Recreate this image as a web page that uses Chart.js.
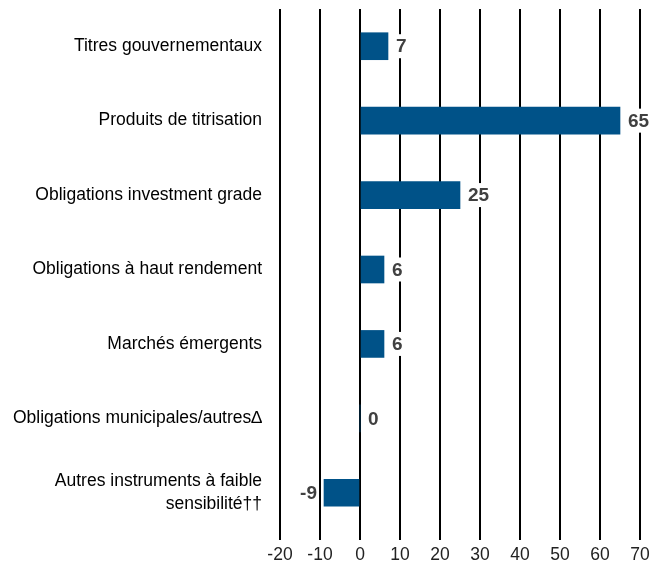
<!DOCTYPE html>
<html>
<head>
<meta charset="utf-8">
<script src="https://cdn.jsdelivr.net/npm/chart.js@4"></script>
<style>
  html, body { margin: 0; padding: 0; background: #fff; }
  #wrap { width: 652px; height: 564px; }
</style>
</head>
<body>
<div id="wrap"><canvas id="barCanvas"></canvas></div>
<script>
const categories = [
    "Titres gouvernementaux",
    "Produits de titrisation",
    "Obligations investment grade",
    "Obligations à haut rendement",
    "Marchés émergents",
    "Obligations municipales/autres∆",
    ["Autres instruments à faible", "sensibilité††"]
];
const values = [7, 65, 25, 6, 6, 0, -9];
const xTicks = [-20, -10, 0, 10, 20, 30, 40, 50, 60, 70];

// value labels with a white box so the grid lines break behind them
const valueLabels = {
    id: "valueLabels",
    afterDatasetsDraw(chart) {
        const ctx = chart.ctx;
        const meta = chart.getDatasetMeta(0);
        ctx.save();
        ctx.font = "bold 19px 'Liberation Sans', Arial, sans-serif";
        ctx.textBaseline = "middle";
        meta.data.forEach((bar, i) => {
            const v = values[i];
            const txt = String(v);
            const w = ctx.measureText(txt).width;
            let x;
            if (v < 0) {
                x = bar.x - 7 - w;
            } else {
                x = bar.x + 8;
            }
            ctx.fillStyle = "#fff";
            ctx.fillRect(x - 2, bar.y - 12, w + 4, 24);
            ctx.fillStyle = "#404040";
            ctx.textAlign = "left";
            ctx.fillText(txt, x, bar.y + 1);
        });
        ctx.restore();
    }
};

const barCanvas = document.getElementById("barCanvas");
window.barChart = new Chart(barCanvas, {
    type: "bar",
    data: {
        labels: categories,
        datasets: [{
            data: values,
            backgroundColor: "#005288",
            barThickness: 27,
            borderWidth: 0
        }]
    },
    options: {
        indexAxis: "y",
        responsive: true,
        maintainAspectRatio: false,
        animation: false,
        layout: { padding: { top: 9, right: 12, left: 0, bottom: 0 } },
        scales: {
            x: {
                min: -20,
                max: 70,
                afterBuildTicks: (scale) => {
                    scale.ticks = xTicks.map(v => ({ value: v }));
                },
                afterFit: (scale) => {
                    scale.height = 34;
                    scale.paddingRight = 0;
                    scale.paddingLeft = 0;
                },
                grid: {
                    color: "#000",
                    lineWidth: 2,
                    tickLength: 10,
                    drawTicks: true
                },
                border: { display: false },
                ticks: {
                    color: "#222",
                    padding: 5,
                    font: { family: "'Liberation Sans', Arial, sans-serif", size: 17.5 }
                }
            },
            y: {
                grid: { display: false, drawTicks: false },
                border: { display: false },
                afterFit: (scale) => {
                    scale.width = 280;
                    scale.paddingTop = 0;
                    scale.paddingBottom = 0;
                },
                ticks: {
                    color: "#000",
                    padding: 18,
                    font: { family: "'Liberation Sans', Arial, sans-serif", size: 17.5, lineHeight: 1.3 }
                }
            }
        },
        plugins: {
            legend: { display: false },
            tooltip: { enabled: false }
        }
    },
    plugins: [valueLabels]
});
</script>
</body>
</html>
